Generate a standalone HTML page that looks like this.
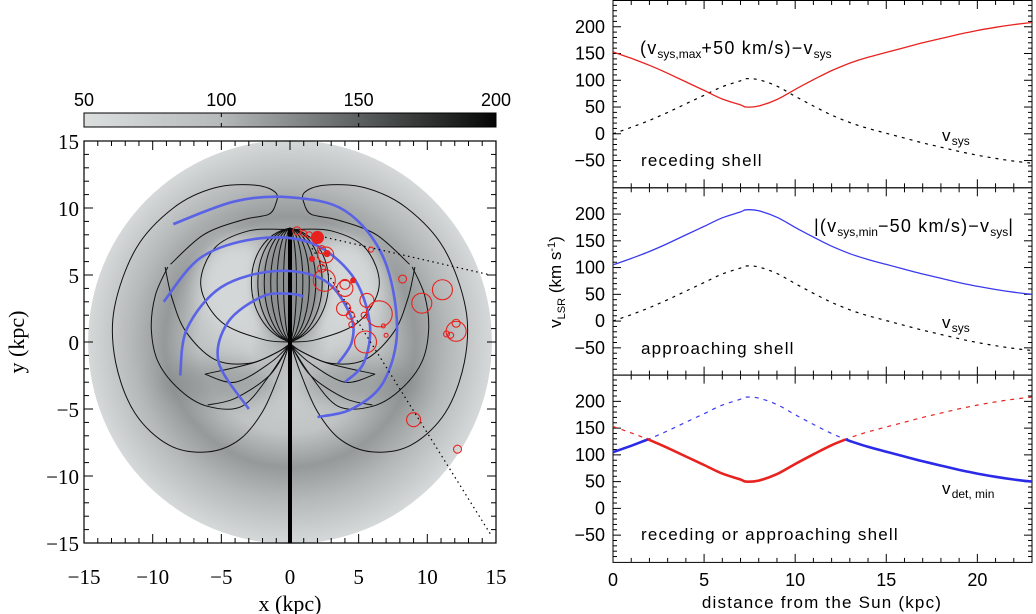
<!DOCTYPE html>
<html><head><meta charset="utf-8">
<style>
html,body{margin:0;padding:0;background:#fff;}
svg{display:block;}
.ser{font-family:"Liberation Serif",serif;}
.san{font-family:"Liberation Sans",sans-serif;}
</style></head>
<body>
<svg id="fig" width="1036" height="614" viewBox="0 0 1036 614" xmlns="http://www.w3.org/2000/svg">
<defs>
<linearGradient id="cbar" x1="0" x2="1" y1="0" y2="0">
<stop offset="0" stop-color="#dcdfdf"/><stop offset="0.33" stop-color="#b5b9b9"/><stop offset="0.66" stop-color="#5e6262"/><stop offset="1" stop-color="#050505"/>
</linearGradient>
<radialGradient id="disk" cx="290" cy="342" r="202" gradientUnits="userSpaceOnUse">
<stop offset="0" stop-color="#a8acac"/><stop offset="0.2" stop-color="#cdd1d1"/><stop offset="0.45" stop-color="#c0c4c4"/><stop offset="0.62" stop-color="#959999"/><stop offset="0.78" stop-color="#b4b8b8"/><stop offset="1" stop-color="#d6d9d9"/>
</radialGradient>
<filter id="blur6" x="-50%" y="-50%" width="200%" height="200%"><feGaussianBlur stdDeviation="6"/></filter>
<filter id="blur10" x="-60%" y="-60%" width="220%" height="220%"><feGaussianBlur stdDeviation="10"/></filter>
<clipPath id="diskclip"><circle cx="290" cy="342" r="202"/></clipPath>
</defs>
<g id="left"></g>
<g id="right"></g>
</svg>
<script>
// ---------- Right chart data ----------
const dist = [0,1,2,3,4,5,6,7,7.3,8,9,10,11,12,13,14,15,16,17,18,19,20,21,22,23];
const vsys = [0,12,25,40,56,72,88,99,103,101,89,70,52,35,21,10,1,-8,-17,-25,-33,-40,-46,-51,-55];
const vsysMax = [103];
const vsysMin = [-55];
const offset = [50];
const yTicks = [-50,0,50,100,150,200];
const xTicks = [0,5,10,15,20];
// ---------- Left map data ----------
const cbTicks = [50,100,150,200];
const mapTicks = [-15,-10,-5,0,5,10,15];
const clouds = [[0.5,8.3,4,0],[1,8.1,3,0],[1.4,8,3,0],[2,7.8,6,1],[2.3,6.9,4,0],[2.6,6.5,8,0],[2.7,6.6,3,1],[1.6,6.2,2.5,1],[2.3,5.5,4,0],[2.5,4.6,11,0],[4,4.3,5,0],[4,4,8,0],[4.6,4.6,2.5,1],[3.9,2.5,7,0],[4.4,2,4,0],[4.5,1.3,3,0],[5.6,3.1,7,0],[5.4,2,3,0],[6.5,2.1,13,0],[6.8,1.2,2,0],[7,0.5,2,0],[5.5,0,11,0],[5.9,6.9,2.5,0],[8.2,4.7,4,0],[9.6,2.9,10,0],[11.1,3.9,10,0],[12.1,0.8,10,0],[12.1,1.4,4,0],[11.4,0.6,3,0],[11.7,0.5,3,0],[9,-5.8,7,0],[12.2,-8,4,0]];
const arm1 = [[-8.5,8.8],[-4,10.5],[0,10.8],[4,9.8],[6.8,6.3],[7.8,1],[6.8,-3],[4.5,-5],[2,-5.6]];
const arm2 = [[-9.2,3],[-6.5,6.3],[-2.5,7.7],[1.5,7.4],[4.5,5],[5.8,1.5],[5.4,-1.5],[4,-3]];
const arm3 = [[-8,-2.5],[-7.5,1],[-5,4.1],[-1,5.3],[2.5,4.6],[4.4,2],[4.5,0],[3.5,-1.6]];
const arm4 = [[-3,-5],[-5.2,-1.5],[-4.5,1.5],[-2,3.4],[0,3.6],[1,3.4]];
const contourA = [[-1.1,10.1],[-1,11.1],[-2.5,11.7],[-5.5,11.5],[-8.5,10],[-11.2,7],[-12.8,2.5],[-12.7,-1.5],[-11.3,-5.3],[-8.8,-7.7],[-6,-8.2],[-3.7,-7.3],[-2,-5.2],[-0.8,-2.4],[-0.1,-0.3]];
const contourB = [[-1.1,10.1],[-1.6,9.5],[-3.5,9.1],[-6.3,8],[-8.7,5.8]];
const contourC = [[-8.9,5.6],[-9.8,3.5],[-10.1,1],[-9.6,-1.5],[-8,-3.6],[-6,-4.8],[-3.5,-4.8],[-1.5,-2.5],[-0.1,-0.3]];
const contourD = [[-9.1,5.6],[-8.6,3.3],[-7.6,0.8],[-5.5,-1.3],[-3,-1.6],[-1,-0.8],[-0.1,-0.2]];
const contourE = [[-0.1,0],[-2,0.2],[-5,1.5],[-6.5,4.2],[-5.5,7],[-3,8.3],[-0.4,8.4]];
const fan1 = [[-0.1,-0.3],[-2.5,-1.5],[-6.2,-2.4]];
const fan2 = [[-6.2,-2.4],[-4,-3],[-1.5,-1.6],[-0.1,-0.3]];
const fan3 = [[-0.1,-0.3],[-1.5,-2.5],[-4,-4.2],[-6,-4.7]];
const lensWidths = [3,2.5,2,1.5,1,0.5];

const NS="http://www.w3.org/2000/svg";
function mk(parent,tag,attrs){const e=document.createElementNS(NS,tag);for(const k in attrs)e.setAttribute(k,attrs[k]);parent.appendChild(e);return e;}
function crPath(pts){let d="M"+pts[0][0].toFixed(1)+" "+pts[0][1].toFixed(1);
 for(let i=0;i<pts.length-1;i++){const p0=pts[Math.max(i-1,0)],p1=pts[i],p2=pts[i+1],p3=pts[Math.min(i+2,pts.length-1)];
 const c1=[p1[0]+(p2[0]-p0[0])/6,p1[1]+(p2[1]-p0[1])/6],c2=[p2[0]-(p3[0]-p1[0])/6,p2[1]-(p3[1]-p1[1])/6];
 d+=" C"+c1[0].toFixed(1)+" "+c1[1].toFixed(1)+" "+c2[0].toFixed(1)+" "+c2[1].toFixed(1)+" "+p2[0].toFixed(1)+" "+p2[1].toFixed(1);}return d;}

// ===== LEFT =====
const L=document.getElementById('left');
const mx=x=>290+x*13.73, my=y=>342-y*13.4;
const cb=mk(L,'rect',{x:84,y:113,width:412,height:14,fill:'url(#cbar)',stroke:'#000','stroke-width':1});


cbTicks.forEach(v=>{const x=84+(v-50)/150*412;
 const t=mk(L,'text',{x:x,y:106,'font-size':18,'text-anchor':'middle',class:'san'});t.textContent=v;
 
 
 mk(L,'line',{x1:x,x2:x,y1:113,y2:117,stroke:'#000'});mk(L,'line',{x1:x,x2:x,y1:123,y2:127,stroke:'#000'});});
const dg=mk(L,'g',{'clip-path':'url(#diskclip)'});


mk(dg,'circle',{cx:290,cy:342,r:202,fill:'url(#disk)'});
mk(dg,'ellipse',{cx:mx(-4),cy:my(4.2),rx:38,ry:50,fill:'#d3d7d7',filter:'url(#blur10)'});
mk(dg,'ellipse',{cx:mx(4),cy:my(4.2),rx:38,ry:50,fill:'#d3d7d7',filter:'url(#blur10)'});
mk(dg,'ellipse',{cx:290,cy:my(4.2),rx:34,ry:54,fill:'#8c9090',filter:'url(#blur6)'});
mk(dg,'ellipse',{cx:mx(-5),cy:my(-3),rx:60,ry:22,fill:'#7d8181',filter:'url(#blur10)',opacity:0.5});
mk(dg,'ellipse',{cx:mx(5),cy:my(-3),rx:60,ry:22,fill:'#7d8181',filter:'url(#blur10)',opacity:0.5});
const cg=mk(L,'g',{fill:'none',stroke:'#111','stroke-width':1});


[contourA,contourB,contourC,contourD,contourE,fan1,fan2,fan3].forEach(c=>{
 [1,-1].forEach(s=>{const p=mk(cg,'path',{d:crPath(c.map(q=>[mx(s*q[0]),my(q[1])]))});
 
 });});
lensWidths.forEach(w=>{[1,-1].forEach(s=>{
 const p=mk(cg,'path',{d:`M${mx(0)} ${my(8.5)} C${mx(s*w*1.25)} ${my(7.8)} ${mx(s*w*1.25)} ${my(1.2)} ${mx(0)} ${my(0)}`});
 
 });});
const vl=mk(L,'line',{x1:290,x2:290,y1:my(8.5),y2:543,stroke:'#000','stroke-width':4});


[arm1,arm2,arm3,arm4].forEach(a=>{const p=mk(L,'path',{d:crPath(a.map(q=>[mx(q[0]),my(q[1])])),fill:'none',stroke:'#5a63e6','stroke-width':2.6});
 
 });
[[[2.2,7.9],[14.6,5]],[[1.6,7],[14.7,-14.5]]].forEach(l=>{const e=mk(L,'line',{x1:mx(l[0][0]),y1:my(l[0][1]),x2:mx(l[1][0]),y2:my(l[1][1]),stroke:'#000','stroke-width':1.2,'stroke-dasharray':'1.5 3.5'});
 
 });
clouds.forEach(c=>{const e=mk(L,'circle',{cx:mx(c[0]),cy:my(c[1]),r:c[2],fill:c[3]?'#e8231f':'none',stroke:'#e8231f','stroke-width':1.1});
 
 });
const fr=mk(L,'rect',{x:84,y:141,width:412,height:402,fill:'none',stroke:'#000','stroke-width':1.2});


for(let v=-15;v<=15;v++){const maj=v%5===0;const len=maj?9:5;const x=mx(v),y=my(v);
 mk(L,'line',{x1:x,x2:x,y1:543,y2:543-len,stroke:'#000'});mk(L,'line',{x1:x,x2:x,y1:141,y2:141+len,stroke:'#000'});
 mk(L,'line',{x1:84,x2:84+len,y1:y,y2:y,stroke:'#000'});mk(L,'line',{x1:496,x2:496-len,y1:y,y2:y,stroke:'#000'});}
mapTicks.forEach(v=>{
 const t=mk(L,'text',{x:mx(v),y:584,'font-size':21,'text-anchor':'middle',class:'ser'});t.textContent=v<0?'\u2212'+(-v):v;
 
 
 const u=mk(L,'text',{x:79,y:my(v)+8,'font-size':21,'text-anchor':'end',class:'ser'});u.textContent=v<0?'\u2212'+(-v):v;
 
 });
const xt=mk(L,'text',{x:290,y:611,'font-size':22,'text-anchor':'middle',class:'ser'});xt.textContent='x (kpc)';


const yt=mk(L,'text',{x:0,y:0,'font-size':22,'text-anchor':'middle',class:'ser',transform:'translate(24 342) rotate(-90)'});yt.textContent='y (kpc)';



// ===== RIGHT =====
const R=document.getElementById('right');
const X0=613,X1=1032,PH=187.3;
const rx=d=>X0+d*(X1-X0)/23;
const ry=(p,v)=>p*PH+(250-v)*PH/350;
const redV=vsys.map(v=>vsysMax[0]+offset[0]-v);
const blueV=vsys.map(v=>Math.abs(vsysMin[0]-offset[0]-v));
function line(p,vals,idx,color,w,dash,name){
 const pts=idx.map(i=>[rx(dist[i]),ry(p,vals[i])]);
 const e=mk(R,'path',{d:crPath(pts),fill:'none',stroke:color,'stroke-width':w});
 if(dash)e.setAttribute('stroke-dasharray',dash);
 
 }
const all=dist.map((d,i)=>i);
for(let p=0;p<3;p++){
 const f=mk(R,'rect',{x:X0,y:p*PH+0.5,width:X1-X0,height:PH,fill:'none',stroke:'#000','stroke-width':1});
 
 
 for(let d=0;d<=23;d++){const len=d%5===0?8:4;const x=rx(d);
  mk(R,'line',{x1:x,x2:x,y1:p*PH+1,y2:p*PH+1+len,stroke:'#000'});mk(R,'line',{x1:x,x2:x,y1:(p+1)*PH,y2:(p+1)*PH-len,stroke:'#000'});}
 for(let v=-90;v<=240;v+=10){const len=v%50===0?8:4;const y=ry(p,v);
  mk(R,'line',{x1:X0,x2:X0+len,y1:y,y2:y,stroke:'#000'});mk(R,'line',{x1:X1,x2:X1-len,y1:y,y2:y,stroke:'#000'});}
 yTicks.forEach(v=>{const t=mk(R,'text',{x:605,y:ry(p,v)+6,'font-size':18,'text-anchor':'end',class:'san'});t.textContent=v<0?'\u2212'+(-v):v;
  
  });
}
line(0,vsys,all,'#000',1.2,'3 5','vsys-curve-top');
line(0,redV,all,'#e8231f',1.3,null,'receding-curve');
line(1,vsys,all,'#000',1.2,'3 5','vsys-curve-middle');
line(1,blueV,all,'#3a3af0',1.3,null,'approaching-curve');
line(2,redV,all,'#e8231f',1.2,'4 5','receding-dashed');
line(2,blueV,all,'#3a3af0',1.2,'4 5','approaching-dashed');
(function(){
 let pieces=[],cur=null;
 for(let i=0;i<dist.length;i++){
  const isR=redV[i]<=blueV[i];
  if(!cur||cur.r!==isR){
   if(cur&&i>0){const a=redV[i-1]-blueV[i-1],b=redV[i]-blueV[i];const t=a/(a-b);
    const dc=dist[i-1]+t*(dist[i]-dist[i-1]);const vc=redV[i-1]+t*(redV[i]-redV[i-1]);
    cur.pts.push([rx(dc),ry(2,vc)]);cur={r:isR,pts:[[rx(dc),ry(2,vc)]]};pieces.push(cur);}
   else{cur={r:isR,pts:[]};pieces.push(cur);}}
  cur.pts.push([rx(dist[i]),ry(2,isR?redV[i]:blueV[i])]);}
 pieces.forEach(pc=>{const e=mk(R,'path',{d:crPath(pc.pts),fill:'none',stroke:pc.r?'#e8231f':'#2a2ae8','stroke-width':2.6});
  
  });
})();
xTicks.forEach(d=>{const t=mk(R,'text',{x:rx(d),y:586,'font-size':18,'text-anchor':'middle',class:'san'});t.textContent=d;
 
 });
function txt(x,y,html,size,name,anchor){const t=mk(R,'text',{x:x,y:y,'font-size':size,class:'san','text-anchor':anchor||'start','letter-spacing':1.2});t.innerHTML=html;
 
 return t;}
const sub='<tspan font-size="12" dy="4" letter-spacing="0">';
txt(640,54,'(v'+sub+'sys,max</tspan><tspan dy="-4">+50 km/s)\u2212v</tspan>'+sub+'sys</tspan>',18,'receding-formula');
txt(942,141,'v'+sub+'sys</tspan>',17,'vsys-label-top');
txt(641,166,'receding shell',17,'receding-label');
txt(814,232,'|(v'+sub+'sys,min</tspan><tspan dy="-4">\u221250 km/s)\u2212v</tspan>'+sub+'sys</tspan><tspan dy="-4">|</tspan>',18,'approaching-formula');
txt(942,328,'v'+sub+'sys</tspan>',17,'vsys-label-middle');
txt(641,354,'approaching shell',17,'approaching-label');
txt(942,494,'v'+sub+'det, min</tspan>',17,'vdet-label');
txt(641,540,'receding or approaching shell',17,'combined-label');
txt(822,608,'distance from the Sun (kpc)',17,'x-axis-title','middle');
const yl=mk(R,'text',{x:0,y:0,'font-size':17,class:'san','text-anchor':'middle',transform:'translate(561 282) rotate(-90)'});
yl.innerHTML='v<tspan font-size="11" dy="4">LSR</tspan><tspan dy="-4"> (km s</tspan><tspan font-size="11" dy="-6">-1</tspan><tspan dy="6">)</tspan>';


</script>
</body></html>
